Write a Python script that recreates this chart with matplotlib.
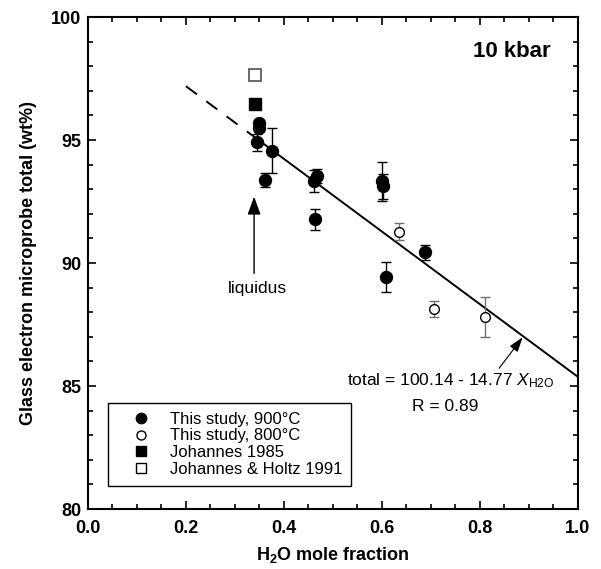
import numpy as np
import matplotlib
matplotlib.use('Agg')
import matplotlib.pyplot as plt
from matplotlib.lines import Line2D
from matplotlib.ticker import MultipleLocator, FormatStrFormatter

plt.rcParams['font.family'] = ['Liberation Sans', 'DejaVu Sans']
plt.rcParams['mathtext.fontset'] = 'custom'
plt.rcParams['mathtext.rm'] = 'Liberation Sans'
plt.rcParams['mathtext.it'] = 'Liberation Sans:italic'
plt.rcParams['mathtext.bf'] = 'Liberation Sans:bold'

# glass totals, 900 C runs (x = H2O mole fraction, y = total wt%, e = 1 sigma)
x900 = [0.350, 0.348, 0.344, 0.376, 0.362, 0.462, 0.468, 0.601, 0.603, 0.464, 0.688, 0.608]
y900 = [95.70, 95.50, 94.90, 94.57, 93.38, 93.33, 93.55, 93.32, 93.12, 91.78, 90.43, 89.43]
e900 = [0.00, 0.00, 0.35, 0.93, 0.27, 0.45, 0.28, 0.80, 0.50, 0.42, 0.30, 0.60]

# 800 C runs
x800 = [0.635, 0.707, 0.811]
y800 = [91.27, 88.14, 87.80]
e800 = [0.34, 0.33, 0.80]

# literature liquidus data
x_joh85 = [0.341]
y_joh85 = [96.45]
x_jh91 = [0.341]
y_jh91 = [97.65]

# linear fit: total = a + b * X_H2O
fit_a = 100.14
fit_b = -14.77
x_dash = [0.20, 0.34]
x_solid = [0.34, 1.00]

fig = plt.figure(figsize=(6.01, 5.69), dpi=100)
ax = fig.add_axes([0.1464, 0.1054, 0.8153, 0.8647])

xd = np.array(x_dash)
xs = np.array(x_solid)
ax.plot(xd, fit_a + fit_b * xd, color='black', lw=1.4, ls=(0, (7, 6)), zorder=2)
ax.plot(xs, fit_a + fit_b * xs, color='black', lw=1.4, zorder=2)

ax.errorbar(x900, y900, yerr=e900, fmt='o', color='black', ms=8.6,
            ecolor='black', elinewidth=1.0, capsize=3.8, capthick=1.0, zorder=3)
ax.errorbar(x800, y800, yerr=e800, fmt='o', mfc='white', mec='black', mew=1.0,
            ms=7, ecolor='#707070', elinewidth=1.0, capsize=3.8, capthick=1.0, zorder=3)
ax.plot(x_joh85, y_joh85, 's', color='black', ms=8.2, zorder=3)
ax.plot(x_jh91, y_jh91, 's', mfc='white', mec='#505050', mew=1.2, ms=8.2, zorder=3)

ax.set_xlim(0.0, 1.0)
ax.set_ylim(80, 100)
ax.xaxis.set_major_locator(MultipleLocator(0.2))
ax.xaxis.set_minor_locator(MultipleLocator(0.05))
ax.yaxis.set_major_locator(MultipleLocator(5))
ax.yaxis.set_minor_locator(MultipleLocator(1))
ax.xaxis.set_major_formatter(FormatStrFormatter('%.1f'))
ax.tick_params(which='both', direction='in', top=True, right=True, width=1.2)
ax.tick_params(which='major', length=6)
ax.tick_params(which='minor', length=3.5)
ax.tick_params(axis='x', pad=8)
ax.tick_params(axis='y', pad=5)
for lab in ax.get_xticklabels() + ax.get_yticklabels():
    lab.set_fontweight('bold')
    lab.set_fontsize(13)
for s in ax.spines.values():
    s.set_linewidth(1.5)

ax.set_xlabel(r'H$_\mathbf{2}$O mole fraction', fontsize=13, fontweight='bold', labelpad=6)
ax.set_ylabel('Glass electron microprobe total (wt%)', fontsize=13, fontweight='bold',
              labelpad=10)

ax.text(0.865, 98.6, '10 kbar', fontsize=16, fontweight='bold', ha='center', va='center')

# liquidus marker
ax.annotate('', xy=(0.339, 92.70), xytext=(0.339, 89.58),
            arrowprops=dict(arrowstyle='-|>,head_length=1.1,head_width=0.4',
                            color='black', lw=1.0, shrinkA=0, shrinkB=0))
ax.text(0.345, 88.95, 'liquidus', fontsize=12.5, ha='center', va='center')

# fit label
ax.annotate('', xy=(0.887, 86.98), xytext=(0.839, 85.72),
            arrowprops=dict(arrowstyle='-|>,head_length=0.9,head_width=0.3',
                            color='black', lw=0.8, shrinkA=0, shrinkB=0))
ax.text(0.74, 85.2, r'total = 100.14 - 14.77 $\mathit{X}_{\mathrm{H2O}}$', fontsize=12.5,
        ha='center', va='center')
ax.text(0.73, 84.15, 'R = 0.89', fontsize=12.5, ha='center', va='center')

handles = [
    Line2D([], [], ls='none', marker='o', color='black', ms=7.5),
    Line2D([], [], ls='none', marker='o', mfc='white', mec='black', mew=1.0, ms=6.5),
    Line2D([], [], ls='none', marker='s', color='black', ms=7),
    Line2D([], [], ls='none', marker='s', mfc='white', mec='black', mew=1.0, ms=7),
]
labels = ['This study, 900°C', 'This study, 800°C', 'Johannes 1985', 'Johannes & Holtz 1991']
leg = ax.legend(handles, labels, loc='lower left', bbox_to_anchor=(0.041, 0.047),
                borderaxespad=0, fontsize=12, frameon=True, fancybox=False,
                edgecolor='black', framealpha=1, labelspacing=0.1, handletextpad=0.35,
                handlelength=2.8, borderpad=0.55)
leg.get_frame().set_linewidth(1.0)

fig.savefig('out.png', dpi=100)
